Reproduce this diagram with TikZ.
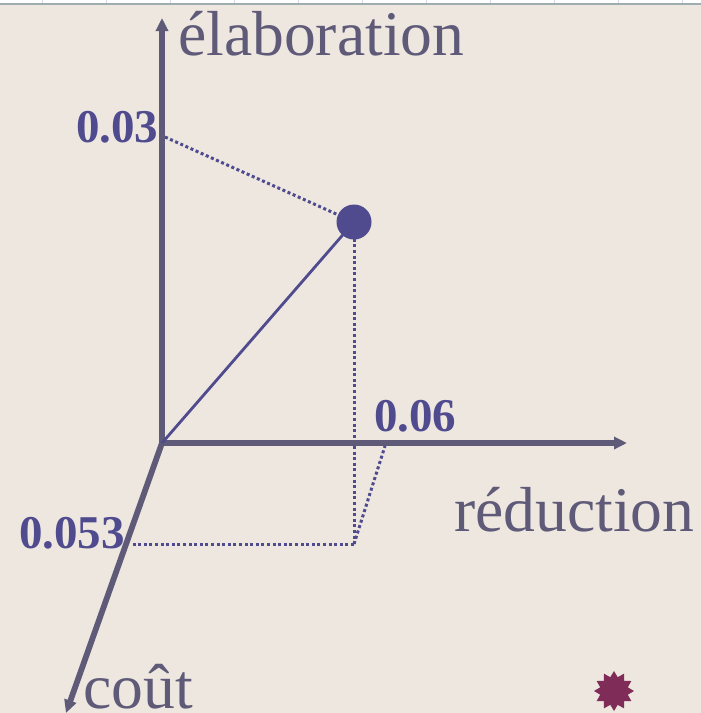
\documentclass[tikz,border=0pt]{standalone}
\usepackage{fontspec}
\setmainfont{Liberation Serif}
\usetikzlibrary{arrows.meta,shapes.geometric}
\definecolor{fond}{HTML}{EDE7E0}
\definecolor{axe}{HTML}{5F5A78}
\definecolor{valeur}{HTML}{4F4B8E}
\definecolor{etoile}{HTML}{7F2C58}
\definecolor{filet}{HTML}{9FADB0}
\definecolor{graduation}{HTML}{D5D5EE}
\tikzset{
  axis/.style={draw=axe,line width=5.8pt,-{Triangle[length=13pt,width=12pt]}},
  guide/.style={draw=valeur,line width=3pt,dash pattern=on 3pt off 2.6pt},
  axlabel/.style={text=axe,inner sep=0pt,anchor=base west,font=\fontsize{63.6}{70}\selectfont},
  vallabel/.style={text=valeur,inner sep=0pt,anchor=base west,font=\fontsize{47}{51}\selectfont\bfseries}
}
\begin{document}
\begin{tikzpicture}[x=1pt,y=-1pt]
\useasboundingbox (0,0) rectangle (701,713);
\fill[fond] (0,0) rectangle (701,713);
\fill[white] (0,0) rectangle (701,3);
\foreach \k in {42,106,...,682} { \draw[graduation,line width=0.8pt] (\k,0) -- (\k,3); }
\fill[filet] (0,3) rectangle (701,5);
% axes
\coordinate (o) at (162,443);
\coordinate (up) at (162,18);
\coordinate (right) at (627,443);
\coordinate (down) at (66,713);
\coordinate (m) at (354,222);
\coordinate (p) at (354,544);
\coordinate (e) at (165,137);
\coordinate (r) at (385,446);
\coordinate (c) at (132,544);
\draw[guide] (e) -- (m);
\draw[guide] (m) -- (p);
\draw[guide] (p) -- (r);
\draw[guide] (p) -- (c);
\draw[axis] (o) -- (up);
\draw[axis] (o) -- (right);
\draw[axis] (o) -- (down);
\draw[valeur,line width=2.8pt] (o) -- (m);
\node[circle,fill=valeur,minimum size=35pt,inner sep=0pt] (pt) at (m) {};
% labels
\node[axlabel] (elab) at (178,55) {élaboration};
\node[axlabel] (reduc) at (454,531) {réduction};
\node[axlabel] (cout) at (83,708) {coût};
\node[vallabel] (v1) at (76,142.5) {0.03};
\node[vallabel] (v2) at (374,431.5) {0.06};
\node[vallabel] (v3) at (19,548.5) {0.053};
\node[star,star points=12,star point ratio=1.4,fill=etoile,minimum size=40pt,inner sep=0pt] (s) at (614,691) {};
\end{tikzpicture}
\end{document}
